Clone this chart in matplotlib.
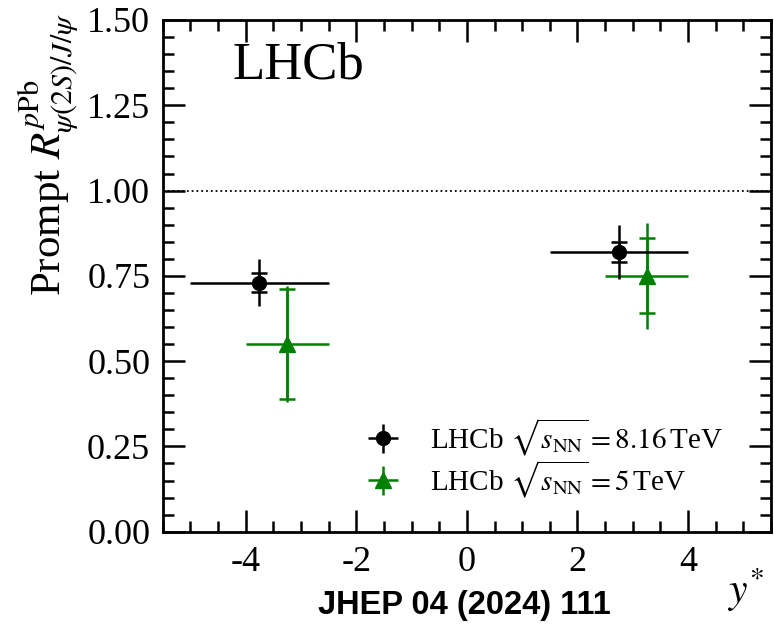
import numpy as np
import matplotlib
matplotlib.use("Agg")
import matplotlib.pyplot as plt
from matplotlib.ticker import MultipleLocator, FormatStrFormatter

# data (LHCb, prompt psi(2S)/J/psi double ratio)
x_816 = [-3.75, 2.75]
xerr_816 = [1.25, 1.25]
y_816 = [0.73, 0.82]
stat_816 = [0.027, 0.03]
tot_816 = [0.068, 0.078]

x_5 = [-3.25, 3.25]
xerr_5 = [0.75, 0.75]
y_5 = [0.55, 0.75]
stat_5 = [0.16, 0.11]
tot_5 = [0.17, 0.155]

plt.rcParams['font.family'] = ['Liberation Serif', 'DejaVu Serif']
plt.rcParams['mathtext.fontset'] = 'stix'
plt.rcParams['axes.unicode_minus'] = False

fig = plt.figure(figsize=(7.74, 6.25), dpi=100)
ax = fig.add_axes([0.2102, 0.1493, 0.786, 0.8187])

# reference line at 1
ax.axhline(1.0, color='black', linestyle=':', linewidth=1.3, zorder=1)

# 8.16 TeV: total uncertainty as plain bar, stat as capped part
ax.errorbar(x_816, y_816, xerr=xerr_816, yerr=tot_816, fmt='o', color='black',
            markersize=10, elinewidth=1.8, capsize=0, zorder=3,
            label=r'LHCb $\sqrt{s_{\rm NN}}=8.16\,$TeV')
ax.errorbar(x_816, y_816, yerr=stat_816, fmt='none', ecolor='black',
            elinewidth=1.8, capsize=6, capthick=1.8, zorder=3)

# 5 TeV
ax.errorbar(x_5, y_5, xerr=xerr_5, yerr=tot_5, fmt='^', color='green',
            markersize=11, elinewidth=1.8, capsize=0, zorder=2,
            label=r'LHCb $\sqrt{s_{\rm NN}}=5\,$TeV')
ax.errorbar(x_5, y_5, yerr=stat_5, fmt='none', ecolor='green',
            elinewidth=1.8, capsize=6, capthick=1.8, zorder=2)

ax.set_xlim(-5.5, 5.5)
ax.set_ylim(0.0, 1.5)
ax.xaxis.set_major_locator(MultipleLocator(2))
ax.xaxis.set_minor_locator(MultipleLocator(0.5))
ax.yaxis.set_major_locator(MultipleLocator(0.25))
ax.yaxis.set_minor_locator(MultipleLocator(0.05))
ax.yaxis.set_major_formatter(FormatStrFormatter('%.2f'))
ax.tick_params(which='both', direction='in', top=True, right=True, width=1.8,
               labelsize=26)
ax.tick_params(which='major', length=16)
ax.tick_params(which='minor', length=8)
ax.tick_params(axis='y', pad=9)
ax.tick_params(axis='x', pad=10)
for s in ax.spines.values():
    s.set_linewidth(2)

ax.set_ylabel(r'Prompt $R^{p{\rm Pb}}_{\psi(2S)/J/\psi}$', fontsize=31)
ax.yaxis.set_label_coords(-0.135, 1.014)
ax.yaxis.label.set_horizontalalignment('right')

ax.text(0.114, 0.885, 'LHCb', transform=ax.transAxes, fontsize=38)

leg = ax.legend(loc='center left', bbox_to_anchor=(0.295, 0.1436), frameon=False,
                fontsize=21, handlelength=1.0, handletextpad=1.1,
                labelspacing=0.0)

fig.text(0.9625, 0.035, r'$y^{*}$', fontsize=30, ha='center')
fig.text(0.60, 0.018, 'JHEP 04 (2024) 111', fontsize=23.5, ha='center',
         family='Liberation Sans', weight='bold')

fig.savefig('out.png', dpi=100)
